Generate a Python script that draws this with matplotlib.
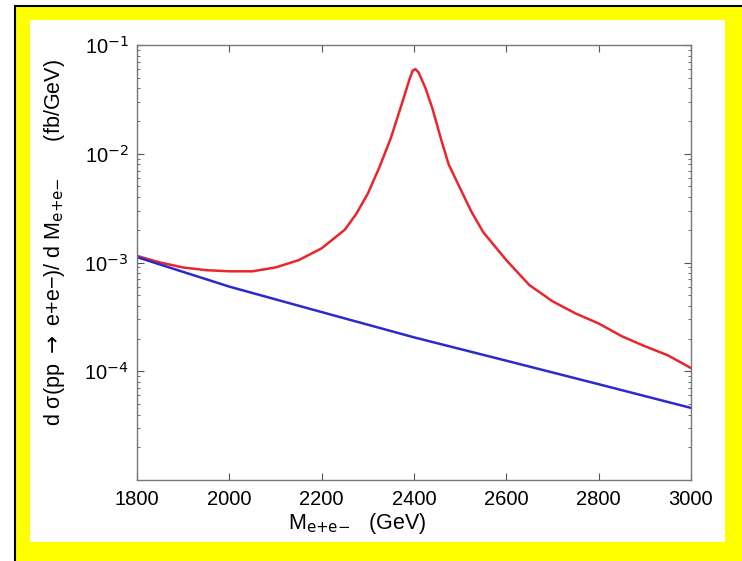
import matplotlib
matplotlib.use('Agg')
import matplotlib.pyplot as plt
from matplotlib.patches import Rectangle
import numpy as np

plt.rcParams['font.family'] = ['Liberation Sans', 'DejaVu Sans']
plt.rcParams['mathtext.fontset'] = 'dejavusans'

# red: signal + background
mass_red = [1800, 1850, 1900, 1950, 2000, 2050, 2100, 2150, 2200, 2250,
            2275, 2300, 2325, 2350, 2375, 2390, 2397, 2403, 2410, 2425, 2440,
            2460, 2475, 2500, 2525, 2550, 2600, 2650, 2700, 2750, 2800,
            2850, 2900, 2950, 3000]
sigma_red = [1.15e-3, 1.0e-3, 9.0e-4, 8.5e-4, 8.3e-4, 8.3e-4, 9.0e-4, 1.05e-3,
             1.35e-3, 2.0e-3, 2.8e-3, 4.3e-3, 7.5e-3, 1.4e-2, 3.0e-2, 4.8e-2,
             5.8e-2, 6.0e-2, 5.6e-2, 4.0e-2, 2.6e-2, 1.3e-2, 8.0e-3, 4.8e-3,
             2.9e-3, 1.9e-3, 1.05e-3, 6.2e-4, 4.4e-4, 3.4e-4, 2.75e-4, 2.1e-4,
             1.7e-4, 1.4e-4, 1.07e-4]

# blue: Drell-Yan background
mass_blue = [1800, 2000, 2200, 2400, 2600, 2800, 3000]
sigma_blue = [1.12e-3, 6.0e-4, 3.5e-4, 2.05e-4, 1.25e-4, 7.6e-5, 4.6e-5]

xticks = [1800, 2000, 2200, 2400, 2600, 2800, 3000]
yticks = [1e-4, 1e-3, 1e-2, 1e-1]
ytick_labels = ['10$^{-4}$', '10$^{-3}$', '10$^{-2}$', '10$^{-1}$']

W, H = 742, 561
fig = plt.figure(figsize=(W / 100, H / 100), dpi=100)
fig.patch.set_facecolor('white')

# yellow frame with black edge, white panel inside
fig.patches.append(Rectangle((15 / W, -0.1), 1, 1.1 - 6 / H, transform=fig.transFigure,
                             facecolor='#ffff00', edgecolor='black', lw=1.5, zorder=0))
fig.patches.append(Rectangle((30 / W, 1 - 542 / H), (725 - 30) / W, (542 - 20) / H,
                             transform=fig.transFigure, facecolor='white',
                             edgecolor='none', zorder=0))

ax = fig.add_axes([137 / W, 1 - 480 / H, (691 - 137) / W, (480 - 45) / H])
ax.set_zorder(3)
ax.plot(mass_red, sigma_red, color='#e8262b', lw=1.8)
ax.plot(mass_blue, sigma_blue, color='#2a2ad0', lw=1.8)

ax.set_yscale('log')
ax.set_xlim(1800, 3000)
ax.set_ylim(1e-5, 1e-1)
ax.set_xticks(xticks)
ax.set_yticks(yticks)
ax.set_yticklabels(ytick_labels)
ax.tick_params(which='both', direction='in', top=True, right=True,
               colors='#555555', labelcolor='black', labelsize=14.5)
ax.tick_params(which='major', length=5)
ax.tick_params(axis='x', which='major', pad=7)
ax.tick_params(axis='y', which='major', pad=6)
ax.tick_params(which='minor', length=2.5)
for s in ax.spines.values():
    s.set_color('#777777')
    s.set_linewidth(1.0)

t1 = fig.text(357 / W, 1 - 523 / H, 'M$_{\\mathsf{e{+}e{-}}}$   (GeV)', ha='center',
              va='center', fontsize=15.5)
t2 = fig.text(55 / W, 1 - 243 / H,
              'd σ(pp $\\rightarrow$ e+e−)/ d M$_{\\mathsf{e{+}e{-}}}$      (fb/GeV)',
              rotation=90, ha='center', va='center', fontsize=15.5)
t1.set_zorder(4)
t2.set_zorder(4)

fig.savefig('out.png', dpi=100, facecolor=fig.get_facecolor())
